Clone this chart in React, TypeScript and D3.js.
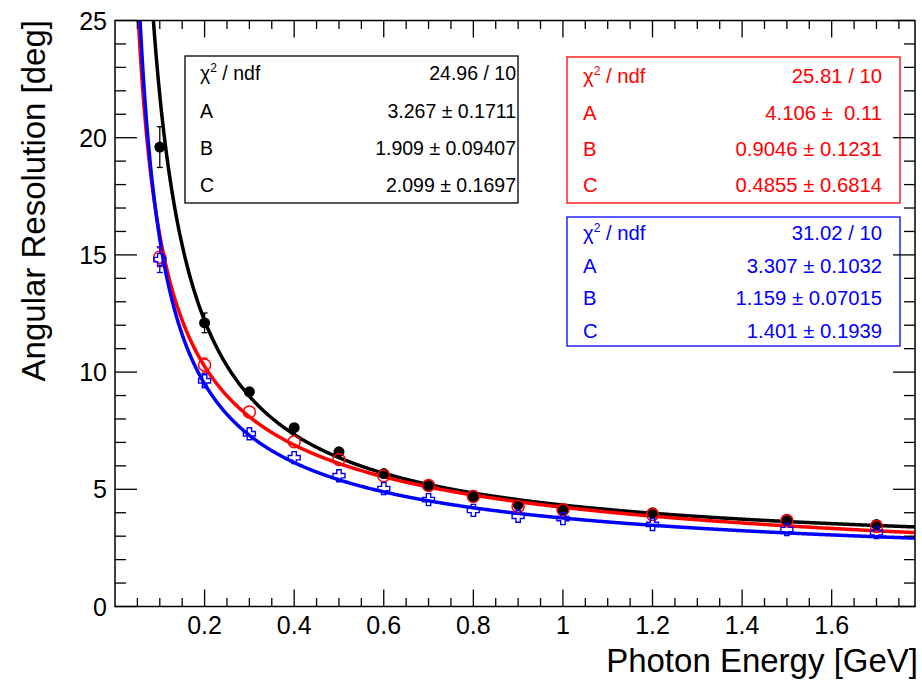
import React from "react";
import * as d3 from "d3";

// ---- data ----
const energies = [0.1, 0.2, 0.3, 0.4, 0.5, 0.6, 0.7, 0.8, 0.9, 1.0, 1.2, 1.5, 1.7];
const blackValues = [19.6, 12.1, 9.16, 7.63, 6.6, 5.67, 5.16, 4.69, 4.35, 4.09, 4.0, 3.67, 3.5];
const blackErrors = [0.87, 0.42, 0.2, 0.15, 0.12, 0.1, 0.1, 0.1, 0.1, 0.1, 0.1, 0.1, 0.1];
const redValues = [14.9, 10.3, 8.3, 7.03, 6.27, 5.58, 5.16, 4.69, 4.27, 4.13, 3.92, 3.67, 3.41];
const redErrors = [0.4, 0.3, 0.15, 0.12, 0.1, 0.1, 0.1, 0.1, 0.1, 0.1, 0.1, 0.1, 0.1];
const blueValues = [14.8, 9.63, 7.37, 6.35, 5.58, 5.03, 4.56, 4.1, 3.85, 3.75, 3.5, 3.28, 3.15];
const blueErrors = [0.55, 0.3, 0.15, 0.12, 0.1, 0.1, 0.1, 0.1, 0.1, 0.1, 0.1, 0.1, 0.1];

// fit parameters [A, B, C]
const blackParams = [3.267, 1.909, 2.099];
const redParams = [4.106, 0.9046, 0.4855];
const blueParams = [3.307, 1.159, 1.401];

const blackStats = ["24.96 / 10", "3.267 ± 0.1711", "1.909 ± 0.09407", "2.099 ± 0.1697"];
const redStats = ["25.81 / 10", "4.106 ±  0.11", "0.9046 ± 0.1231", "0.4855 ± 0.6814"];
const blueStats = ["31.02 / 10", "3.307 ± 0.1032", "1.159 ± 0.07015", "1.401 ± 0.1939"];
const statNames = ["A", "B", "C"];

const xMajorTicks = [0.2, 0.4, 0.6, 0.8, 1.0, 1.2, 1.4, 1.6];
const xTickLabels = ["0.2", "0.4", "0.6", "0.8", "1", "1.2", "1.4", "1.6"];
const yMajorTicks = [0, 5, 10, 15, 20, 25];
const yTickLabels = ["0", "5", "10", "15", "20", "25"];

const xDomain = [0, 1.786];
const yDomain = [0, 25];

const FONT = "'Liberation Sans', Arial, Helvetica, sans-serif";

const W = 922, H = 681;
const L = 115, R = 915, T = 20.5, B = 606.5;

const x = d3.scaleLinear().domain(xDomain).range([L, R]);
const y = d3.scaleLinear().domain(yDomain).range([B, T]);

const fitFn = (p: number[]) => (e: number) =>
  Math.sqrt((p[0] * p[0]) / e + (p[1] * p[1]) / (e * e) + p[2] * p[2]);

function curvePath(p: number[]) {
  const f = fitFn(p);
  const es = d3.range(0.03, xDomain[1] + 0.0001, 0.002);
  const line = d3
    .line<number>()
    .x((e) => x(e))
    .y((e) => y(Math.min(f(e), 40)));
  return line(es) || "";
}

function ErrorBars({ vals, errs, color, r }: any) {
  return (
    <g stroke={color} strokeWidth={1.3}>
      {energies.map((e, i) => {
        const cx = x(e);
        const cy = y(vals[i]);
        const top = y(vals[i] + errs[i]);
        const bot = y(vals[i] - errs[i]);
        const segs: any[] = [];
        if (cy - top > r + 1) {
          segs.push(<line key="t" x1={cx} x2={cx} y1={top} y2={cy - r} />);
          segs.push(<line key="tc" x1={cx - 3} x2={cx + 3} y1={top} y2={top} />);
        }
        if (bot - cy > r + 1) {
          segs.push(<line key="b" x1={cx} x2={cx} y1={cy + r} y2={bot} />);
          segs.push(<line key="bc" x1={cx - 3} x2={cx + 3} y1={bot} y2={bot} />);
        }
        return <g key={i}>{segs}</g>;
      })}
    </g>
  );
}

const crossPath = (() => {
  const s = 6, w = 2.2;
  return `M${-w},${-s}L${w},${-s}L${w},${-w}L${s},${-w}L${s},${w}L${w},${w}L${w},${s}L${-w},${s}L${-w},${w}L${-s},${w}L${-s},${-w}L${-w},${-w}Z`;
})();

function StatBox({ x0, y0, x1, y1, color, stats, rowY, tx0, tx1, fs }: any) {
  return (
    <g fontFamily={FONT} fontSize={fs} fill={color}>
      <rect x={x0} y={y0} width={x1 - x0} height={y1 - y0} fill="white" stroke={color} strokeWidth={1.3} />
      <text x={tx0} y={rowY[0]}>
        χ<tspan fontSize={12} dy={-8}>2</tspan>
        <tspan dy={8}> / ndf</tspan>
      </text>
      {statNames.map((n, i) => (
        <text key={n} x={tx0} y={rowY[i + 1]}>{n}</text>
      ))}
      {stats.map((s: string, i: number) => (
        <text key={i} x={tx1} y={rowY[i]} textAnchor="end" style={{ whiteSpace: "pre" }}>{s}</text>
      ))}
    </g>
  );
}

export default function App() {
  const xMinor = d3.range(0.05, xDomain[1], 0.05).filter((v) => !xMajorTicks.some((m) => Math.abs(m - v) < 1e-6));
  const yMinor = d3.range(1, 25, 1).filter((v) => v % 5 !== 0);
  const yMajLen = 22, yMinLen = 11, xMajLen = 17, xMinLen = 8.5;

  return (
    <svg width={W} height={H} style={{ position: "absolute", left: 0, top: 0, background: "white" }}>
      <defs>
        <clipPath id="frameClip">
          <rect x={L} y={T} width={R - L} height={B - T} />
        </clipPath>
      </defs>
      <rect x={0} y={0} width={W} height={H} fill="white" />

      {/* stat boxes */}
      <StatBox x0={185} y0={56} x1={518} y1={203} color="#000" stats={blackStats}
        rowY={[80, 118, 155, 192]} tx0={200} tx1={516} fs={19.5} />
      <StatBox x0={567} y0={57} x1={900} y1={203} color="#ff0000" stats={redStats}
        rowY={[83, 120, 156, 192]} tx0={583} tx1={882} fs={20.3} />
      <StatBox x0={567} y0={217} x1={900} y1={346} color="#0000ff" stats={blueStats}
        rowY={[240, 273, 305, 338]} tx0={583} tx1={882} fs={20.3} />

      {/* curves */}
      <g clipPath="url(#frameClip)" fill="none" strokeWidth={3.5}>
        <path d={curvePath(blackParams)} stroke="#000" />
        <path d={curvePath(redParams)} stroke="#ff0000" />
        <path d={curvePath(blueParams)} stroke="#0000ff" />
      </g>

      {/* black points */}
      <ErrorBars vals={blackValues} errs={blackErrors} color="#000" r={5} />
      <g fill="#000">
        {energies.map((e, i) => (
          <circle key={i} cx={x(e)} cy={y(blackValues[i])} r={5.5} />
        ))}
      </g>
      {/* red points */}
      <ErrorBars vals={redValues} errs={redErrors} color="#ff0000" r={6} />
      <g fill="none" stroke="#ff0000" strokeWidth={1.5}>
        {energies.map((e, i) => (
          <circle key={i} cx={x(e)} cy={y(redValues[i])} r={6} />
        ))}
      </g>
      {/* blue points */}
      <ErrorBars vals={blueValues} errs={blueErrors} color="#0000ff" r={6} />
      <g fill="none" stroke="#0000ff" strokeWidth={1.4}>
        {energies.map((e, i) => (
          <path key={i} d={crossPath} transform={`translate(${x(e)},${y(blueValues[i])})`} />
        ))}
      </g>

      {/* frame */}
      <rect x={L} y={T} width={R - L} height={B - T} fill="none" stroke="#000" strokeWidth={1.5} />

      {/* ticks */}
      <g stroke="#000" strokeWidth={1.3}>
        {xMajorTicks.map((v) => (
          <g key={"xM" + v}>
            <line x1={x(v)} x2={x(v)} y1={B} y2={B - xMajLen} />
            <line x1={x(v)} x2={x(v)} y1={T} y2={T + xMajLen} />
          </g>
        ))}
        {xMinor.map((v) => (
          <g key={"xm" + v}>
            <line x1={x(v)} x2={x(v)} y1={B} y2={B - xMinLen} />
            <line x1={x(v)} x2={x(v)} y1={T} y2={T + xMinLen} />
          </g>
        ))}
        {yMajorTicks.map((v) => (
          <g key={"yM" + v}>
            <line x1={L} x2={L + yMajLen} y1={y(v)} y2={y(v)} />
            <line x1={R} x2={R - yMajLen} y1={y(v)} y2={y(v)} />
          </g>
        ))}
        {yMinor.map((v) => (
          <g key={"ym" + v}>
            <line x1={L} x2={L + yMinLen} y1={y(v)} y2={y(v)} />
            <line x1={R} x2={R - yMinLen} y1={y(v)} y2={y(v)} />
          </g>
        ))}
      </g>

      {/* tick labels */}
      <g fontFamily={FONT} fontSize={25} fill="#000">
        {xMajorTicks.map((v, i) => (
          <text key={"xl" + v} x={x(v)} y={634} textAnchor="middle">{xTickLabels[i]}</text>
        ))}
        {yMajorTicks.map((v, i) => (
          <text key={"yl" + v} x={107} y={y(v) + 9} textAnchor="end">{yTickLabels[i]}</text>
        ))}
      </g>

      {/* axis titles */}
      <text x={918} y={672} textAnchor="end" fontFamily={FONT} fontSize={33} fill="#000">
        Photon Energy [GeV]
      </text>
      <text transform="translate(45,20) rotate(-90)" textAnchor="end" fontFamily={FONT} fontSize={33} fill="#000">
        Angular Resolution [deg]
      </text>
    </svg>
  );
}
